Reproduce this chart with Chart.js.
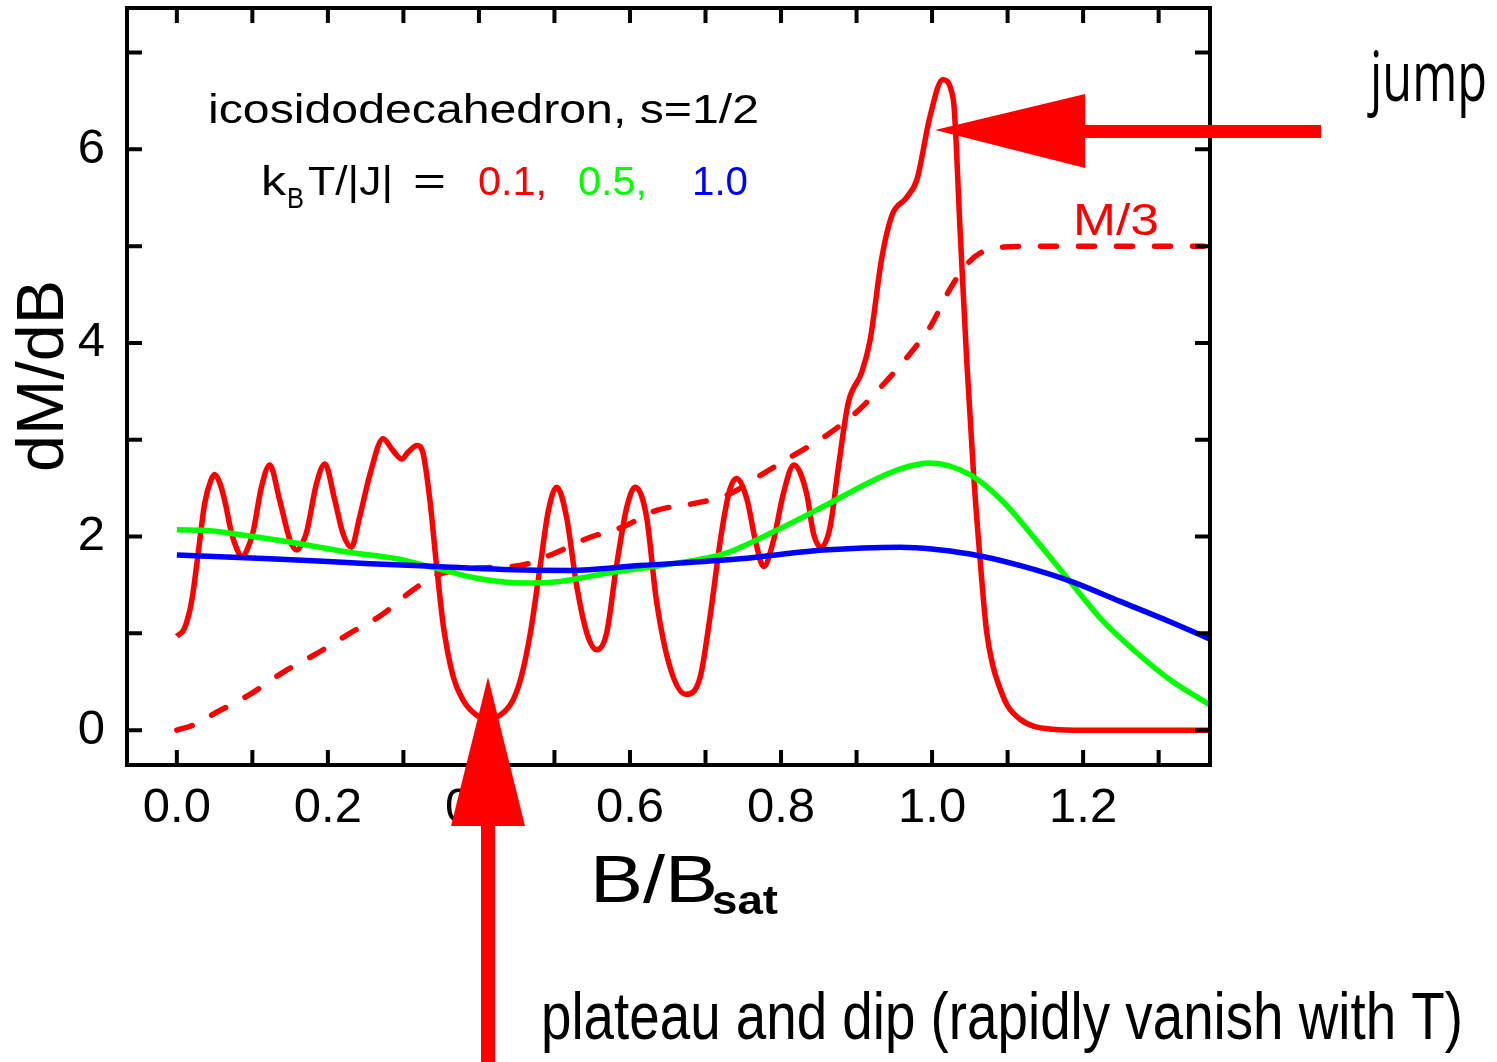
<!DOCTYPE html>
<html><head><meta charset="utf-8">
<script src="https://cdn.jsdelivr.net/npm/chart.js@4/dist/chart.umd.min.js"></script>
<style>html,body{margin:0;padding:0;background:#fff;} #wrap{width:1497px;height:1062px;position:relative;}</style>
</head><body><div id="wrap"><canvas id="c" width="1497" height="1062"></canvas></div>
<script>
// ---- data ----
const redB = [0.000,0.010,0.020,0.027,0.037,0.045,0.050,0.057,0.064,0.072,0.079,0.086,0.094,0.101,0.112,0.123,0.136,0.150,0.159,0.166,0.172,0.185,0.196,0.209,0.220,0.231,0.242,0.256,0.273,0.286,0.298,0.306,0.318,0.326,0.335,0.344,0.353,0.366,0.379,0.397,0.412,0.428,0.445,0.456,0.468,0.481,0.492,0.503,0.516,0.529,0.543,0.556,0.569,0.582,0.596,0.607,0.622,0.635,0.653,0.674,0.693,0.706,0.721,0.732,0.741,0.755,0.766,0.777,0.790,0.803,0.817,0.834,0.843,0.853,0.865,0.876,0.889,0.907,0.918,0.933,0.947,0.966,0.980,0.997,1.014,1.028,1.037,1.046,1.055,1.064,1.072,1.080,1.090,1.100,1.117,1.135,1.160,1.200,1.368];
const redDMdB = [0.97,1.05,1.35,1.75,2.35,2.58,2.64,2.55,2.35,2.05,1.88,1.79,1.88,2.05,2.51,2.74,2.38,1.96,1.86,1.93,2.05,2.55,2.75,2.38,2.03,1.89,2.20,2.65,3.01,2.89,2.80,2.87,2.94,2.86,2.38,1.69,1.07,0.55,0.31,0.155,0.12,0.155,0.31,0.55,1.00,1.69,2.27,2.51,2.20,1.51,1.00,0.83,1.00,1.69,2.31,2.51,2.20,1.34,0.65,0.37,0.55,1.17,2.03,2.48,2.60,2.38,1.96,1.69,1.96,2.44,2.74,2.44,2.03,1.89,2.10,2.72,3.38,3.70,4.03,4.86,5.32,5.50,5.69,6.33,6.72,6.52,5.18,3.80,2.64,1.72,1.03,0.68,0.43,0.25,0.11,0.04,0.01,0.00,0.00];

const greenB = [0.000,0.044,0.092,0.159,0.225,0.291,0.344,0.397,0.459,0.500,0.569,0.657,0.724,0.790,0.856,0.922,0.958,0.997,1.050,1.094,1.139,1.178,1.227,1.271,1.315,1.368];
const greenDMdB = [2.07,2.06,2.01,1.93,1.84,1.77,1.67,1.57,1.52,1.53,1.62,1.72,1.82,2.05,2.31,2.58,2.70,2.76,2.64,2.36,1.95,1.58,1.12,0.80,0.52,0.26];

const blueB = [0.000,0.123,0.256,0.344,0.432,0.520,0.613,0.746,0.856,0.958,1.050,1.117,1.183,1.249,1.315,1.368];
const blueDMdB = [1.81,1.77,1.72,1.69,1.66,1.65,1.70,1.77,1.86,1.89,1.82,1.70,1.54,1.33,1.12,0.94];

const mB = [0.000,0.021,0.054,0.099,0.141,0.185,0.229,0.271,0.313,0.344,0.388,0.454,0.498,0.543,0.591,0.635,0.684,0.732,0.772,0.821,0.861,0.902,0.940,0.973,0.997,1.024,1.046,1.064,1.094,1.150,1.360];
const mOver3 = [0.00,0.05,0.19,0.38,0.60,0.79,1.00,1.19,1.45,1.60,1.67,1.70,1.82,1.98,2.10,2.27,2.34,2.44,2.63,2.86,3.05,3.30,3.61,3.91,4.16,4.56,4.81,4.93,4.99,5.00,5.00];

const xTickLabels = ['0.0','0.2','0.4','0.6','0.8','1.0','1.2'];
const yTickLabels = ['0','2','4','6'];
const tempLabels = ['0.1,','0.5,','1.0'];

const pts = (xs, ys) => xs.map((x, i) => ({x: x, y: ys[i]}));

function fitText(ctx, text, x, y, w, font, color, sy) {
  ctx.save();
  ctx.font = font; ctx.fillStyle = color;
  ctx.textAlign = 'left'; ctx.textBaseline = 'alphabetic';
  const m = ctx.measureText(text).width;
  ctx.translate(x, y);
  ctx.scale(w / m, sy || 1);
  ctx.fillText(text, 0, 0);
  ctx.restore();
}

const decor = {
  id: 'decor',
  afterDraw(chart) {
    const ctx = chart.ctx, a = chart.chartArea;
    const xs = chart.scales.x, ys = chart.scales.y;
    ctx.save();
    ctx.strokeStyle = '#000'; ctx.lineWidth = 4;
    ctx.strokeRect(a.left, a.top, a.right - a.left, a.bottom - a.top);
    ctx.lineCap = 'butt';
    const TL = 15;
    xs.ticks.forEach(t => {
      const px = xs.getPixelForValue(t.value);
      ctx.beginPath();
      ctx.moveTo(px, a.bottom); ctx.lineTo(px, a.bottom - TL);
      ctx.moveTo(px, a.top); ctx.lineTo(px, a.top + TL);
      ctx.stroke();
    });
    ys.ticks.forEach(t => {
      const py = ys.getPixelForValue(t.value);
      ctx.beginPath();
      ctx.moveTo(a.left, py); ctx.lineTo(a.left + TL, py);
      ctx.moveTo(a.right, py); ctx.lineTo(a.right - TL, py);
      ctx.stroke();
    });
    ctx.restore();

    // axis titles
    ctx.save();
    ctx.translate(63, 376);
    ctx.rotate(-Math.PI / 2);
    fitText(ctx, 'dM/dB', -96, 0, 192, '67px "Liberation Sans"', '#000');
    ctx.restore();
    fitText(ctx, 'B/B', 590, 902, 128, '66px "Liberation Sans"', '#000');
    fitText(ctx, 'sat', 712, 914, 66, 'bold 40px "Liberation Sans"', '#000');

    // in-plot labels
    const F = '"Liberation Sans"';
    fitText(ctx, 'icosidodecahedron, s=1/2', 208, 123, 551, '41px ' + F, '#000');
    fitText(ctx, 'k', 261, 195, 25, '41px ' + F, '#000');
    fitText(ctx, 'B', 287, 208, 17, '29px ' + F, '#000');
    fitText(ctx, 'T/|J|', 308, 195, 85, '41px ' + F, '#000');
    fitText(ctx, '=', 413, 195, 33, '41px ' + F, '#000');
    fitText(ctx, tempLabels[0], 478, 195, 69, '41px ' + F, '#ff0000');
    fitText(ctx, tempLabels[1], 578, 195, 69, '41px ' + F, '#00ff00');
    fitText(ctx, tempLabels[2], 692, 195, 56, '41px ' + F, '#0000ff');
    fitText(ctx, 'M/3', 1073, 235, 86, '44px ' + F, '#ff0000');

    // arrows
    const jx = xs.getPixelForValue(1.004), jy = ys.getPixelForValue(6.2);
    ctx.save();
    ctx.fillStyle = '#ff0000';
    ctx.beginPath();
    ctx.moveTo(jx, jy);
    ctx.lineTo(jx + 150, jy - 36);
    ctx.lineTo(jx + 150, jy + 38);
    ctx.closePath(); ctx.fill();
    ctx.fillRect(jx + 149, jy - 5, 1321 - (jx + 149), 13);
    const dx = xs.getPixelForValue(0.412), dy = ys.getPixelForValue(0.55);
    ctx.beginPath();
    ctx.moveTo(dx, dy);
    ctx.lineTo(dx - 37, dy + 149);
    ctx.lineTo(dx + 37, dy + 149);
    ctx.closePath(); ctx.fill();
    ctx.fillRect(dx - 7, dy + 148, 14, 1062 - (dy + 148));
    ctx.restore();

    fitText(ctx, 'jump', 1370, 101, 117, '60px "Open Sans"', '#000', 1.15);
    fitText(ctx, 'plateau and dip (rapidly vanish with T)', 541, 1039, 922, '62px "Liberation Sans"', '#000', 1.08);
  }
};

const ln = (data, color, order, dash) => ({
  data: data, borderColor: color, backgroundColor: color, borderWidth: 5.5,
  pointRadius: 0, fill: false, cubicInterpolationMode: 'monotone', order: order,
  borderDash: dash || [], borderCapStyle: dash ? 'round' : 'butt', borderJoinStyle: 'round'
});

new Chart(document.getElementById('c'), {
  type: 'line',
  data: {
    datasets: [
      ln(pts(blueB, blueDMdB), '#0000ff', 0),
      ln(pts(greenB, greenDMdB), '#00ff00', 1),
      ln(pts(mB, mOver3), '#ff0000', 2, [16, 22]),
      ln(pts(redB, redDMdB), '#ff0000', 3)
    ]
  },
  options: {
    responsive: false, animation: false, devicePixelRatio: 1,
    layout: {padding: {left: 0, top: 8, right: 287, bottom: 0}},
    plugins: {legend: {display: false}, tooltip: {enabled: false}},
    scales: {
      x: {
        type: 'linear', min: -0.066, max: 1.368,
        grid: {display: false, drawTicks: false},
        border: {display: false},
        afterFit(s) { s.height = 297; s.paddingLeft = 0; s.paddingRight = 0; },
        ticks: {
          stepSize: 0.1, includeBounds: false, autoSkip: false, maxRotation: 0, minRotation: 0,
          padding: 14, color: '#000', font: {family: '"Liberation Sans"', size: 49},
          callback(v) { const s = v.toFixed(1); return xTickLabels.includes(s) ? s : ''; }
        }
      },
      y: {
        type: 'linear', min: -0.36, max: 7.46,
        grid: {display: false, drawTicks: false},
        border: {display: false},
        afterFit(s) { s.width = 127; s.paddingTop = 0; s.paddingBottom = 0; },
        ticks: {
          stepSize: 1, includeBounds: false, autoSkip: false,
          padding: 22, color: '#000', font: {family: '"Liberation Sans"', size: 49},
          callback(v) { const s = String(Math.round(v)); return yTickLabels.includes(s) ? s : ''; }
        }
      }
    }
  },
  plugins: [decor]
});
</script></body></html>
